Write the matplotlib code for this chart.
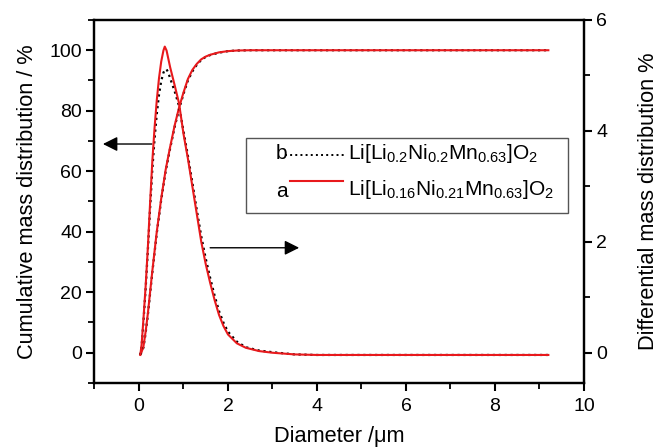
import matplotlib
matplotlib.use("Agg")
import matplotlib.pyplot as plt
from matplotlib.patches import Rectangle
from matplotlib.lines import Line2D
from matplotlib.ticker import MultipleLocator

plt.rcParams["font.family"] = ["Liberation Sans", "DejaVu Sans"]
plt.rcParams["mathtext.fontset"] = "custom"
plt.rcParams["mathtext.rm"] = "Liberation Sans"
plt.rcParams["mathtext.it"] = "Liberation Sans:italic"

# 累积分布 (左轴, %)
x_cum = [0.03, 0.06, 0.1, 0.15, 0.2, 0.25, 0.3, 0.35, 0.4, 0.5, 0.6, 0.7,
         0.8, 0.9, 1.0, 1.1, 1.2, 1.3, 1.4, 1.5, 1.6, 1.8, 2.0, 2.2, 2.5,
         3.0, 4.0, 9.2]
cum_a = [-0.5, 0.3, 2, 7, 13, 20, 27, 33.5, 40, 51, 60.5, 68,
         75, 81, 86, 90.5, 93.5, 95.5, 97, 97.9, 98.5, 99.3, 99.7, 99.9, 100,
         100, 100, 100]
cum_b = [-0.5, 0.2, 1.7, 6.5, 12.5, 19.5, 26.5, 33, 39.5, 50.5, 60, 67.5,
         74.5, 80.5, 85.5, 90, 93, 95.2, 96.8, 97.8, 98.4, 99.2, 99.7, 99.9, 100,
         100, 100, 100]

# 微分分布 (右轴, %)
x_diff = [0.03, 0.06, 0.1, 0.15, 0.2, 0.25, 0.3, 0.35, 0.4, 0.45, 0.5, 0.55,
          0.58, 0.62, 0.66, 0.7, 0.8, 0.9, 1.0, 1.1, 1.2, 1.3, 1.4, 1.5, 1.6,
          1.7, 1.8, 1.9, 2.0, 2.2, 2.4, 2.7, 3.0, 3.5, 4.0, 9.2]
diff_a = [-0.04, 0.15, 0.6, 1.2, 1.9, 2.7, 3.45, 4.05, 4.55, 4.95, 5.25, 5.45,
          5.52, 5.45, 5.3, 5.15, 4.83, 4.5, 3.95, 3.5, 3.0, 2.5, 2.0, 1.6, 1.26,
          0.95, 0.68, 0.48, 0.33, 0.17, 0.09, 0.03, 0.0, -0.03, -0.04, -0.04]
diff_b = [-0.04, 0.12, 0.55, 1.15, 1.85, 2.6, 3.3, 3.85, 4.3, 4.65, 4.9, 5.05,
          5.1, 5.11, 5.05, 4.95, 4.72, 4.45, 4.0, 3.55, 3.07, 2.57, 2.1, 1.7, 1.35,
          1.03, 0.75, 0.54, 0.38, 0.2, 0.1, 0.04, 0.01, -0.03, -0.04, -0.04]

label_a = "Li[Li$_{0.16}$Ni$_{0.21}$Mn$_{0.63}$]O$_2$"
label_b = "Li[Li$_{0.2}$Ni$_{0.2}$Mn$_{0.63}$]O$_2$"

red = "#e8191c"
fs = 14      # 刻度
fs_lab = 15.7  # 轴标题
fs_leg = 15

fig = plt.figure(figsize=(6.62, 4.48), dpi=100)
ax = fig.add_axes([0.1427, 0.1451, 0.7394, 0.8103])
ax2 = ax.twinx()

ax.plot(x_cum, cum_b, color="black", ls=":", lw=1.6)
ax.plot(x_cum, cum_a, color=red, lw=1.5)
ax2.plot(x_diff, diff_b, color="black", ls=":", lw=1.6)
ax2.plot(x_diff, diff_a, color=red, lw=1.5)

ax.set_xlim(-1, 10)
ax.set_ylim(-10, 110)
ax2.set_ylim(-6 / 11, 6)

ax.xaxis.set_major_locator(MultipleLocator(2))
ax.xaxis.set_minor_locator(MultipleLocator(1))
ax.yaxis.set_major_locator(MultipleLocator(20))
ax.yaxis.set_minor_locator(MultipleLocator(10))
ax2.yaxis.set_major_locator(MultipleLocator(2))
ax2.yaxis.set_minor_locator(MultipleLocator(1))

for a in (ax, ax2):
    for s in a.spines.values():
        s.set_linewidth(1.6)
    a.tick_params(which="major", direction="out", length=6, width=1.5,
                  labelsize=fs, pad=3)
    a.tick_params(which="minor", direction="out", length=4, width=1.3)
ax.tick_params(axis="x", pad=5)

ax.set_xlabel("Diameter /\u03bcm", fontsize=fs_lab, labelpad=8)
ax.set_ylabel("Cumulative mass distribution / %", fontsize=fs_lab, labelpad=8)
ax2.set_ylabel("Differential mass distribution %", fontsize=fs_lab, labelpad=22)

# 箭头
arrow = dict(arrowstyle="-|>", color="black", lw=1.0, mutation_scale=22,
             shrinkA=0, shrinkB=0)
ax.annotate("", xy=(-0.81, 69), xytext=(0.29, 69), arrowprops=arrow)
ax.annotate("", xy=(3.6, 34.7), xytext=(1.6, 34.7), arrowprops=arrow)

# 图例
ax2.add_patch(Rectangle((0.31, 0.468), 0.657, 0.206, transform=ax2.transAxes,
                        fill=False, edgecolor="#555555", lw=1.0, zorder=5))
ax2.add_line(Line2D([0.389, 0.512], [0.628, 0.628], transform=ax2.transAxes,
                    color="black", ls=":", lw=1.4, zorder=5))
ax2.add_line(Line2D([0.399, 0.508], [0.557, 0.557], transform=ax2.transAxes,
                    color=red, lw=1.5, zorder=5))
ax2.text(0.371, 0.616, "b", transform=ax2.transAxes, fontsize=fs_leg,
         va="baseline", ha="left")
ax2.text(0.371, 0.513, "a", transform=ax2.transAxes, fontsize=fs_leg,
         va="baseline", ha="left")
ax2.text(0.518, 0.616, label_b, transform=ax2.transAxes, fontsize=fs_leg,
         va="baseline", ha="left")
ax2.text(0.518, 0.518, label_a, transform=ax2.transAxes, fontsize=fs_leg,
         va="baseline", ha="left")

fig.savefig("out.png", dpi=100)
